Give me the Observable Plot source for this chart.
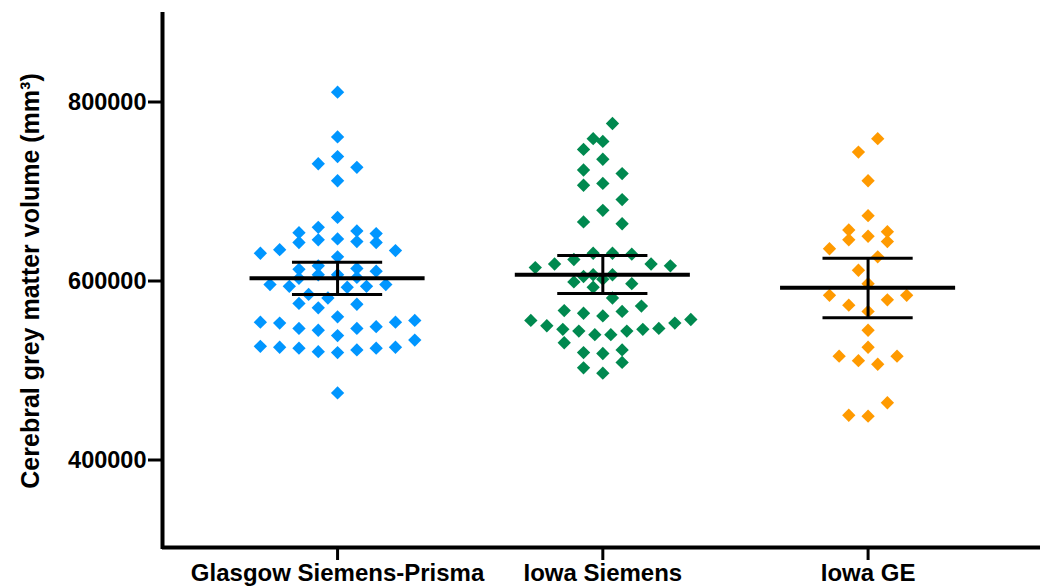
<!DOCTYPE html>
<html><head><meta charset="utf-8">
<script src="https://cdn.jsdelivr.net/npm/d3@7"></script>
<script src="https://cdn.jsdelivr.net/npm/@observablehq/plot@0.6"></script>
<style>body{margin:0;background:#fff;} svg{display:block}</style>
</head><body><div id="chart"></div>
<script>
const categories = ["Glasgow Siemens-Prisma", "Iowa Siemens", "Iowa GE"];
const colors = ["#0096FF", "#00894F", "#FF9A00"];
const glasgow = [811000, 761000, 739000, 731000, 727000, 712000, 671000, 660000, 656000, 654000,
  653000, 647000, 644000, 643000, 643000, 646000, 634000, 631000, 635000, 627000,
  613000, 607000, 604000, 617000, 603000, 607000, 611000, 614000,
  596000, 594000, 593000, 594000, 596000, 581000, 585000, 574000, 570000, 575000,
  560000, 554000, 554000, 547000, 545000, 547000, 549000, 553000, 556000,
  539000, 527000, 526000, 525000, 521000, 520000, 523000, 525000, 526000, 534000, 475000];
const iowaSiemens = [776000, 756000, 759000, 747000, 736000, 720000, 724000, 707000, 709000, 691000,
  679000, 664000, 666000, 631000, 630000, 631000, 624000, 619000, 617000, 615000, 619000,
  607000, 605000, 599000, 593000, 597000, 602000, 607000, 581000, 572000, 567000,
  564000, 557000, 553000, 547000, 546000, 544000, 544000, 546000, 550000, 556000, 561000, 566000,
  540000, 531000, 540000, 520000, 519000, 523000, 509000, 503000, 497000];
const iowaGE = [759000, 744000, 712000, 673000, 657000, 655000, 646000, 650000, 644000, 636000,
  627000, 612000, 597000, 584000, 579000, 584000, 573000, 566000, 545000,
  516000, 511000, 507000, 516000, 526000, 464000, 449000, 450000];
const means = [603000, 607000, 592500];
const ciLow = [585000, 586000, 559000];
const ciHigh = [621000, 628500, 625500];
const yTicks = [400000, 600000, 800000];
const yLabel = "Cerebral grey matter volume (mm³)";

const W = 1040, H = 587, mL = 162, mR = 0, mT = 12, mB = 38;
const yDomain = [300000, 900000];
const xDomain = [-0.66, 2.65];
const yPx = d3.scaleLinear(yDomain, [H - mB, mT]);
const pxPerUnit = (W - mL - mR) / (xDomain[1] - xDomain[0]);
const binH = 17, step = 19.3, maxW = 160, gap = 12.5;

// Prism-like scatter layout: rows (bins) spread horizontally, outward from the mean
function swarm(vals, mean) {
  const ys = vals.map(yPx);
  const out = new Array(vals.length).fill(0);
  const ids = d3.range(vals.length);
  const upper = ids.filter(i => vals[i] >= mean).sort((a, b) => vals[b] - vals[a]);
  const lower = ids.filter(i => vals[i] < mean).sort((a, b) => vals[a] - vals[b]);
  const placed = [];
  for (const list of [upper, lower]) {
    const bins = [];
    let cur = null;
    for (const i of list) {
      if (!cur || Math.abs(ys[i] - ys[cur[0]]) > binH) { cur = [i]; bins.push(cur); }
      else cur.push(i);
    }
    for (const bin of bins) {
      const n = bin.length;
      const s = n > 1 ? Math.min(step, maxW / (n - 1)) : step;
      bin.sort((a, b) => Math.abs(vals[b] - mean) - Math.abs(vals[a] - mean));
      const pos = [];
      if (n % 2) { pos.push(0); for (let k = 1; pos.length < n; k++) pos.push(-k * s, k * s); }
      else { for (let k = 0; pos.length < n; k++) pos.push((k + 0.5) * s, -(k + 0.5) * s); }
      const collides = shift => bin.some((i, j) => placed.some(p =>
        Math.abs(p.x - (pos[j] + shift)) < gap && Math.abs(p.y - ys[i]) < gap));
      let shift = 0;
      if (collides(0)) shift = collides(s / 2) ? -s / 2 : s / 2;
      bin.forEach((i, j) => { out[i] = pos[j] + shift; placed.push({x: out[i], y: ys[i]}); });
    }
  }
  return out;
}

const groups = [glasgow, iowaSiemens, iowaGE];
const rows = [];
groups.forEach((vals, gi) => {
  const off = swarm(vals, means[gi]);
  vals.forEach((v, k) => rows.push({group: categories[gi], value: v, x: gi + off[k] / pxPerUnit}));
});
const idx = d3.range(categories.length);

const chart = Plot.plot({
  width: W, height: H,
  marginLeft: mL, marginRight: mR, marginTop: mT, marginBottom: mB,
  style: {fontFamily: "'Liberation Sans', Arial, sans-serif", fontWeight: "bold", color: "#000", background: "#fff"},
  x: {domain: xDomain, axis: null},
  y: {domain: yDomain, axis: null},
  color: {domain: categories, range: colors},
  marks: [
    Plot.axisY(yTicks, {tickSize: 14, tickPadding: 2, tickFormat: d => String(d), fontSize: 23.5, strokeWidth: 3, label: null}),
    Plot.axisX(idx, {tickSize: 11, tickPadding: 3, tickFormat: i => categories[i], fontSize: 24, strokeWidth: 3, label: null}),
    Plot.ruleX([xDomain[0]], {y1: yDomain[0], y2: yDomain[1], strokeWidth: 4}),
    Plot.ruleY([yDomain[0]], {strokeWidth: 4, dy: -2}),
    Plot.dot(rows, {x: "x", y: "value", fill: "group", symbol: "diamond2", r: 6}),
    Plot.ruleY(idx, {y: i => means[i], x1: i => i - 0.33, x2: i => i + 0.33, strokeWidth: 4}),
    Plot.ruleY(idx, {y: i => ciHigh[i], x1: i => i - 0.17, x2: i => i + 0.17, strokeWidth: 3}),
    Plot.ruleY(idx, {y: i => ciLow[i], x1: i => i - 0.17, x2: i => i + 0.17, strokeWidth: 3}),
    Plot.ruleX(idx, {x: i => i, y1: i => ciLow[i], y2: i => ciHigh[i], strokeWidth: 3}),
    Plot.text([yLabel], {text: d => d, frameAnchor: "left", textAnchor: "middle", lineAnchor: "middle", rotate: -90, dx: -132, fontSize: 25, fontWeight: "bold"})
  ]
});
document.getElementById("chart").appendChild(chart);
</script>
</body></html>
